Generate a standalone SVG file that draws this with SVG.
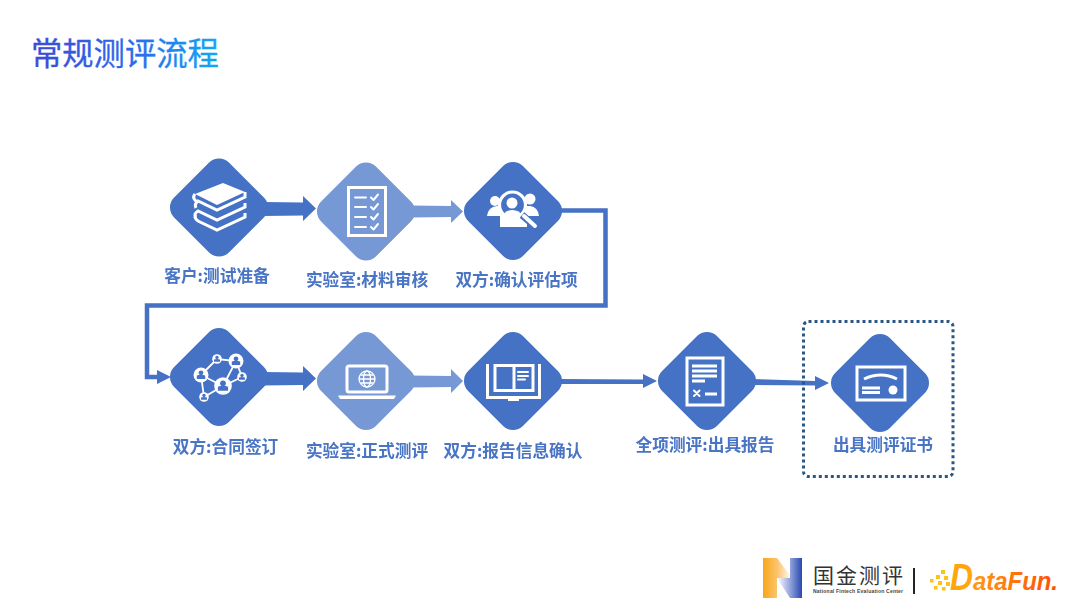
<svg xmlns="http://www.w3.org/2000/svg" width="1080" height="608" viewBox="0 0 1080 608">
<style>
.dk{fill:#4472C4}.lt{fill:#7698D5}
.lb{font-family:"Noto Sans CJK SC","Liberation Sans",sans-serif;font-weight:700;font-size:16.7px;fill:#4874C4;text-anchor:middle}
.w{fill:none;stroke:#fff;stroke-width:3}
.wf{fill:#fff}
.wt{fill:none;stroke:#fff;stroke-width:2;stroke-linecap:round;stroke-linejoin:round}
</style>
<defs>
<linearGradient id="tg" gradientUnits="userSpaceOnUse" x1="31" y1="0" x2="219" y2="0"><stop offset="0" stop-color="#3A4BD6"/><stop offset=".55" stop-color="#2A6BEE"/><stop offset="1" stop-color="#12A8F2"/></linearGradient>
<linearGradient id="no" gradientUnits="userSpaceOnUse" x1="763" y1="0" x2="792" y2="0"><stop offset="0" stop-color="#F9A51A"/><stop offset=".5" stop-color="#FBC56E"/><stop offset="1" stop-color="#FFFFFF"/></linearGradient>
<linearGradient id="nb" gradientUnits="userSpaceOnUse" x1="777" y1="0" x2="802" y2="0"><stop offset="0" stop-color="#FFFFFF"/><stop offset=".5" stop-color="#98A8DE"/><stop offset="1" stop-color="#2748B0"/></linearGradient>
<linearGradient id="df" gradientUnits="userSpaceOnUse" x1="930" y1="0" x2="1058" y2="0"><stop offset="0" stop-color="#FFC21A"/><stop offset="1" stop-color="#FF4D00"/></linearGradient>
<rect id="dia" x="-38.750" y="-38.750" width="77.500" height="77.500" rx="14" transform="rotate(45)"/>
<filter id="soft" x="-2%" y="-2%" width="104%" height="104%"><feGaussianBlur stdDeviation="0.35"/></filter>
<g id="person"><circle cx="0" cy="-1.6" r="1.7" fill="#4472C4"/><path d="M-3 0Q0-1 3 0V2.400H-3Z" fill="#4472C4" transform="translate(0,.4)"/></g>
</defs>
<rect width="1080" height="608" fill="#fff"/>
<text id="title" x="31" y="65" font-family="'Noto Sans CJK SC',sans-serif" font-weight="400" font-size="31.3" fill="url(#tg)" stroke="url(#tg)" stroke-width="0.3">常规测评流程</text>
<g filter="url(#soft)">
<g id="connectors">
<path class="dk" d="M262 202L303 202.500V196L316 208.500L303 221V215.500L262 216Z"/>
<path class="lt" d="M410 205.500L451 206V200L463 211.500L451 223V217L410 217.500Z"/>
<path fill="none" stroke="#4472C4" stroke-width="4.500" d="M558 210.500H605.500V305.500H147V377H160"/>
<path class="dk" d="M157 370L171 377L157 384Z"/>
<path class="dk" d="M262 372L303 372.500V366L316 378.500L303 391V385L262 385.500Z"/>
<path class="lt" d="M410 375.500L451 376V369L463 381L451 393V387L410 387.500Z"/>
<path class="dk" d="M558 379L643 379.500V374L657 381L643 388V384L558 384Z"/>
<path class="dk" d="M752 379L815 381V376L829 383L815 390V385.500L752 385Z"/>
</g>
<rect id="dotted-box" x="803.500" y="321.500" width="149.500" height="155" rx="5" fill="none" stroke="#2B5688" stroke-width="3" stroke-dasharray="3 3"/>
<g id="n1"><use href="#dia" class="dk" transform="translate(219,207.500)"/>
<path class="wf" d="M195 194L223 183L245 192L217 205Z"/>
<path class="w" d="M245 192V197L217 210L198 201Q194 204 196 208M245 203V207L217 220L198 211Q193 214 196 218M245 213V217L217 230L198 221Q193 217 196 214M195 194Q192 198 196 201" stroke-width="3.200"/>
</g>
<g id="n2"><use href="#dia" class="lt" transform="translate(366,211.500)"/>
<rect class="w" x="348.500" y="187.500" width="37" height="48"/>
<path class="wt" d="M355 197.500H366M355 207H366M355 217H366M355 227H366M371 197.500L373.500 200L378 194.500M371 207L373.500 209.500L378 204M371 217L373.500 219.500L378 214M371 227L373.500 229.500L378 224"/>
</g>
<g id="n3"><use href="#dia" class="dk" transform="translate(513,211)"/>
<circle class="wf" cx="495" cy="201" r="5"/><circle class="wf" cx="530" cy="199" r="5.500"/>
<path class="wf" d="M487 216Q488 207 497 206H530Q538 207 539 216H527V227H500V216Z"/>
<circle cx="512.500" cy="205" r="13" fill="#4472C4" stroke="#fff" stroke-width="3.200"/>
<circle class="wf" cx="512" cy="203" r="5.500"/><path class="wf" d="M503 216Q505 210 512 210Q520 210 522 216Q512 221 503 216Z"/>
<path stroke="#4472C4" stroke-width="7" d="M522 215L537 228" fill="none"/>
<path stroke="#fff" stroke-width="4" stroke-linecap="round" d="M524 216L535 226" fill="none"/>
</g>
<g id="n4"><use href="#dia" class="dk" transform="translate(219,377)"/>
<path fill="none" stroke="#fff" stroke-width="1.800" d="M201 375L217 359L236 361L242 377L223 386L204 397L201 375M236 361L223 386M201 375L223 386"/>
<g class="wf"><circle cx="201" cy="375" r="7.500"/><circle cx="217" cy="359" r="4.800"/><circle cx="236" cy="361" r="7.500"/><circle cx="242" cy="377" r="4.800"/><circle cx="223" cy="386" r="8.800"/><circle cx="204" cy="397" r="4.800"/></g>
<use href="#person" transform="translate(201,375) scale(1.400)"/><use href="#person" transform="translate(217,359)"/><use href="#person" transform="translate(236,361) scale(1.400)"/><use href="#person" transform="translate(242,377)"/><use href="#person" transform="translate(223,386) scale(1.700)"/><use href="#person" transform="translate(204,397)"/>
</g>
<g id="n5"><use href="#dia" class="lt" transform="translate(366,381)"/>
<rect class="w" x="347" y="366" width="40" height="26" rx="2"/>
<path class="wf" d="M338 395.500H396L394 399H340Z"/>
<g fill="none" stroke="#fff" stroke-width="1.300"><circle cx="367" cy="379" r="8"/><ellipse cx="367" cy="379" rx="3.500" ry="8"/><path d="M359 379H375M360.500 375H373.500M360.500 383H373.500"/></g>
</g>
<g id="n6"><use href="#dia" class="dk" transform="translate(513,381)"/>
<path class="w" d="M487.500 364V397.500H539.500V364"/>
<rect class="w" x="495" y="365.500" width="38" height="25"/>
<path class="w" d="M514 365V391" stroke-width="2"/>
<path class="wt" d="M518 372H528M518 376H528M518 379.500H525" stroke-width="1.600"/>
<rect class="wf" x="508" y="398" width="11" height="3"/>
</g>
<g id="n7"><use href="#dia" class="dk" transform="translate(707,381)"/>
<rect class="w" x="687" y="358" width="36" height="47"/>
<path class="w" d="M692 366H717M692 371H717M692 376H717M692 381H705M705 394H717" stroke-width="1.900"/>
<path class="wt" d="M694 390.500L699.500 396M699.500 390.500L694 396"/>
</g>
<g id="n8"><use href="#dia" class="dk" transform="translate(880,383)"/>
<rect class="w" x="857" y="367" width="48" height="33"/>
<path class="w" d="M864 379Q881 371 897 379"/>
<path class="w" d="M862 388H880M862 392.500H880" stroke-width="1.800"/>
<circle class="wf" cx="893" cy="390" r="4.500"/>
</g>
<text class="lb" x="217" y="281.500">客户:测试准备</text>
<text class="lb" x="367" y="285.500">实验室:材料审核</text>
<text class="lb" x="516.500" y="285.500">双方:确认评估项</text>
<text class="lb" x="225.500" y="452.500">双方:合同签订</text>
<text class="lb" x="367" y="456.500">实验室:正式测评</text>
<text class="lb" x="513" y="456.500">双方:报告信息确认</text>
<text class="lb" x="705" y="450.500">全项测评:出具报告</text>
<text class="lb" x="883" y="450.500">出具测评证书</text>
</g>
<g id="logos">
<path fill="url(#no)" d="M763 558H777L792 578H777V598H763Z"/>
<path fill="url(#nb)" d="M802 558H790V578H777L790 598H802Z"/>
<text x="813" y="582.500" font-family="'Noto Sans CJK SC',sans-serif" font-size="21" fill="#333" textLength="90">国金测评</text>
<text x="813" y="593" font-family="'Liberation Sans',sans-serif" font-weight="700" font-size="5" fill="#444" textLength="90">National Fintech Evaluation Center</text>
<rect x="913" y="568" width="2" height="26" fill="#222"/>
<g fill="#FFC21A"><rect x="941" y="570" width="4" height="4"/><rect x="936" y="575" width="4" height="4"/><rect x="944" y="576" width="4" height="4"/><rect x="930" y="579" width="3.500" height="3.500"/><rect x="938" y="581" width="4" height="4"/><rect x="946" y="582" width="4" height="4"/><rect x="934" y="586" width="3.500" height="3.500"/><rect x="942" y="587" width="3.500" height="3.500"/></g>
<text x="950" y="590" font-family="'Liberation Sans',sans-serif" font-weight="700" font-style="italic" font-size="36" fill="#FFA60F" textLength="23" lengthAdjust="spacingAndGlyphs">D</text>
<text x="973" y="590" font-family="'Liberation Sans',sans-serif" font-weight="700" font-style="italic" font-size="25" fill="url(#df)" textLength="85" lengthAdjust="spacingAndGlyphs">ataFun.</text>
</g>
</svg>
